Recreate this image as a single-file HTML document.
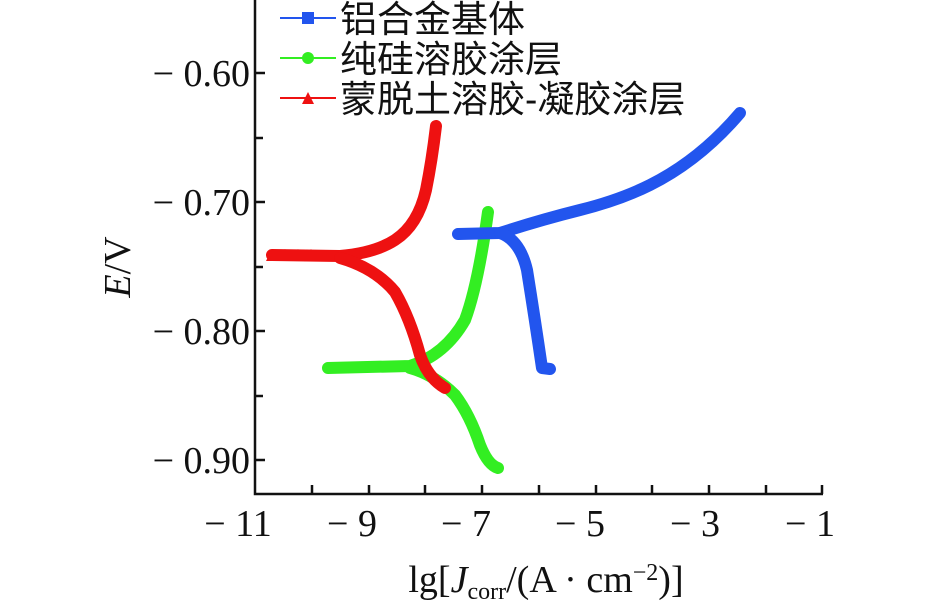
<!DOCTYPE html>
<html><head><meta charset="utf-8"><style>
body{margin:0;background:#fff;width:944px;height:614px;overflow:hidden}
svg{display:block}
.t{font-family:"Liberation Serif",serif;font-size:38px;fill:#111}
.l{font-family:"Liberation Sans","Noto Sans CJK SC",sans-serif;font-size:37px;fill:#111}
</style></head><body>
<svg width="944" height="614" viewBox="0 0 944 614">
<g stroke="#111" stroke-width="2.5" fill="none">
<path d="M255 0 V494 H823"/>
<path d="M255 73h10M255 138h8M255 202h10M255 267h8M255 331h10M255 396h8M255 460h10"/>
<path d="M312 494v-9M369 494v-9M425 494v-9M482 494v-9M539 494v-9M596 494v-9M652 494v-9M709 494v-9M766 494v-9M822 494v-9"/>
</g>
<g class="t" text-anchor="end">
<text x="250" y="86">− 0.60</text>
<text x="250" y="215">− 0.70</text>
<text x="250" y="344">− 0.80</text>
<text x="250" y="473">− 0.90</text>
</g>
<g class="t" text-anchor="middle">
<text x="238" y="536">− 11</text>
<text x="352" y="536">− 9</text>
<text x="466" y="536">− 7</text>
<text x="580" y="536">− 5</text>
<text x="695" y="536">− 3</text>
<text x="810" y="536">− 1</text>
<text x="546" y="592">lg[<tspan font-style="italic">J</tspan><tspan font-size="24" dy="7">corr</tspan><tspan dy="-7">/(A · cm</tspan><tspan font-size="24" dy="-12">−2</tspan><tspan dy="12">)]</tspan></text>
</g>
<text class="t" transform="translate(130,267) rotate(-90)" text-anchor="middle"><tspan font-style="italic">E</tspan>/V</text>
<g fill="none" stroke-width="12" stroke-linecap="round" stroke-linejoin="round">
<path stroke="#33ee22" d="M328 368 L410 366 Q445 355 465 320 Q478 285 488 212"/>
<path stroke="#33ee22" d="M410 368 Q435 375 455 395 Q470 415 480 445 Q488 465 498 468"/>
<path stroke="#2255ee" d="M458 234 L500 233 Q540 220 580 210 Q620 200 650 185 Q700 160 740 113"/>
<path stroke="#2255ee" d="M500 233 Q520 240 527 270 Q535 320 542 368 L550 369"/>
<path stroke="#ee1111" d="M272 255 L340 256 Q375 253 395 240 Q418 225 426 190 Q432 160 436 126"/>
<path stroke="#ee1111" d="M340 258 Q375 268 395 292 Q410 318 420 355 Q428 378 445 388"/>
</g>
<g fill="#ee1111"><path d="M266 261l6-12 6 12zM279 261l6-12 6 12zM292 261l6-12 6 12zM305 261l6-12 6 12z"/></g>
<g stroke-width="2">
<line x1="280" y1="18" x2="336" y2="18" stroke="#2255ee"/><rect x="302" y="12" width="12" height="12" fill="#2255ee"/>
<line x1="280" y1="58" x2="336" y2="58" stroke="#33ee22"/><circle cx="308" cy="58" r="6" fill="#33ee22"/>
<line x1="280" y1="98" x2="336" y2="98" stroke="#ee1111"/><path d="M302 104l6-12 6 12z" fill="#ee1111"/>
</g>
<g class="l">
<text x="340" y="32">铝合金基体</text>
<text x="340" y="72">纯硅溶胶涂层</text>
<text x="340" y="112">蒙脱土溶胶-凝胶涂层</text>
</g>
</svg>
</body></html>
